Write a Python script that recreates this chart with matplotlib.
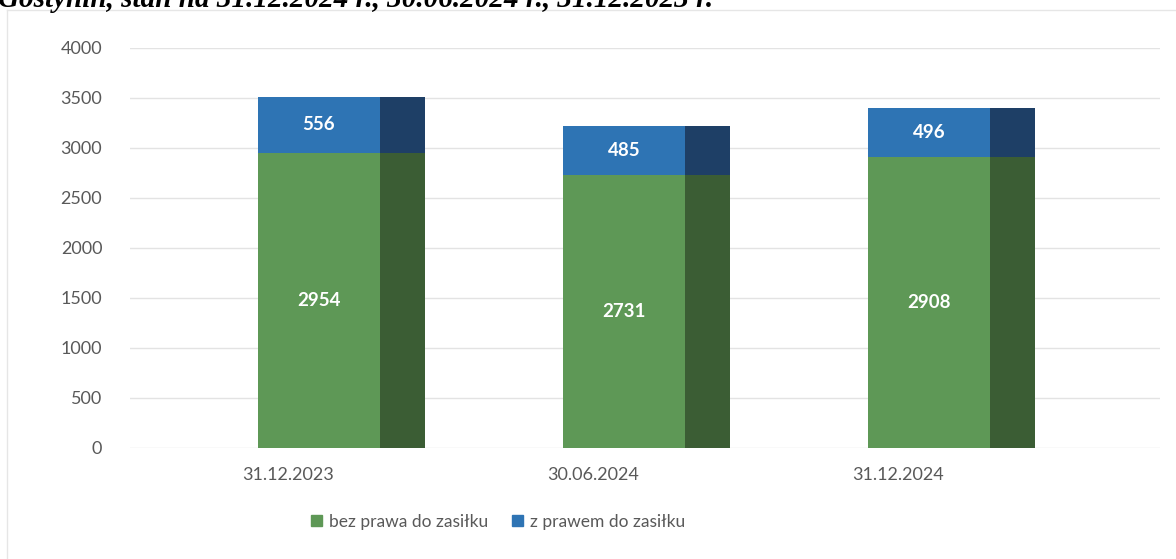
import matplotlib.pyplot as plt
from matplotlib.patches import Patch
from matplotlib.lines import Line2D

categories = ["31.12.2023", "30.06.2024", "31.12.2024"]
bez_prawa = [2954, 2731, 2908]
z_prawem = [556, 485, 496]

GREEN = "#5e9856"
GREEN_DARK = "#3b5d34"
BLUE = "#2e74b4"
BLUE_DARK = "#1e3f66"
GRAY = "#595959"

plt.rcParams["font.family"] = ["Lato", "DejaVu Sans"]

W, H = 1176, 559
fig = plt.figure(figsize=(W / 100, H / 100), dpi=100)
ax = fig.add_axes([130 / W, (H - 448) / H, 1030 / W, 400 / H])

xs = list(range(len(categories)))
front_w, side_w = 0.40, 0.148
front_x = [x - 0.074 for x in xs]
side_x = [x + 0.2 for x in xs]

# front face + darker right-hand side (pseudo 3D look)
ax.bar(front_x, bez_prawa, width=front_w, color=GREEN, zorder=2)
ax.bar(front_x, z_prawem, width=front_w, bottom=bez_prawa, color=BLUE, zorder=2)
ax.bar(side_x, bez_prawa, width=side_w, color=GREEN_DARK, zorder=2)
ax.bar(side_x, z_prawem, width=side_w, bottom=bez_prawa, color=BLUE_DARK, zorder=2)

for x, a, b in zip(front_x, bez_prawa, z_prawem):
    ax.text(x, a / 2, str(a), ha="center", va="center", color="white",
            fontsize=13.5, fontweight="bold", zorder=3)
    ax.text(x, a + b / 2, str(b), ha="center", va="center", color="white",
            fontsize=13.5, fontweight="bold", zorder=3)

ax.set_xlim(-0.693, 2.684)
ax.set_ylim(0, 4000)
ax.set_yticks(range(0, 4001, 500))
ax.set_xticks([x - 0.175 for x in xs])
ax.set_xticklabels(categories)
ax.tick_params(axis="both", length=0, labelsize=13, labelcolor=GRAY)
ax.tick_params(axis="y", pad=20)
ax.tick_params(axis="x", pad=14)
ax.grid(axis="y", color="#e3e3e3", linewidth=1, zorder=0)
for s in ax.spines.values():
    s.set_visible(False)

handles = [Patch(color=GREEN), Patch(color=BLUE)]
fig.legend(handles, ["bez prawa do zasiłku", "z prawem do zasiłku"],
           loc="center", bbox_to_anchor=(498 / W, (H - 522) / H), ncol=2,
           frameon=False, fontsize=12.5, labelcolor=GRAY,
           handlelength=0.6, handleheight=0.6, handletextpad=0.4, columnspacing=1.4)

# chart frame (left and top edges visible)
fig.add_artist(Line2D([7 / W, 7 / W], [0, (H - 10) / H], color="#e6e6e6", lw=1))
fig.add_artist(Line2D([7 / W, 1], [(H - 10) / H, (H - 10) / H], color="#e6e6e6", lw=1))

# caption from the page above, cut off by the crop
fig.text(-2 / W, (H - 7) / H, "Gostynin, stan na 31.12.2024 r., 30.06.2024 r., 31.12.2023 r.",
         family="Liberation Serif", fontweight="bold", style="italic", fontsize=21,
         va="baseline", ha="left", color="black")

fig.savefig("out.png", dpi=100)
